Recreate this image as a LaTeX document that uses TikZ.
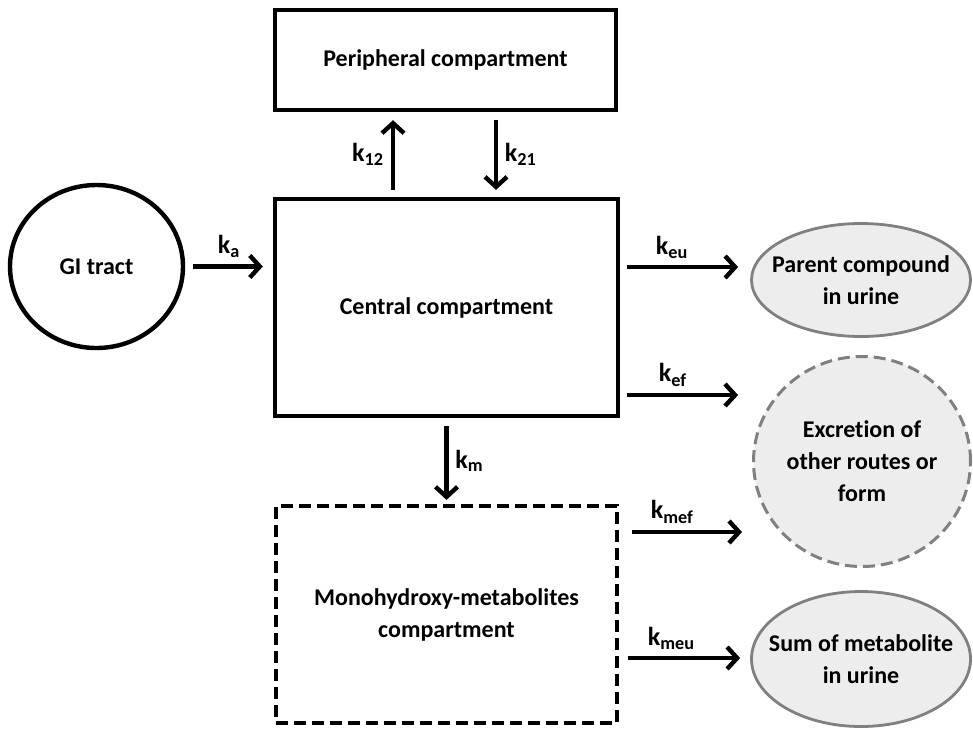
\documentclass[tikz,border=0pt]{standalone}
\usepackage{fontspec}
\setmainfont{Carlito}[Ligatures=NoCommon]
\usetikzlibrary{arrows.meta,shapes.geometric}

\begin{document}
\begin{tikzpicture}[x=0.5pt,y=-0.5pt,->,>={Straight Barb[length=5pt,width=11pt]},line width=2.2pt,auto,
    font=\bfseries\fontsize{12}{16}\selectfont,
    comp node/.style={draw,rectangle,inner sep=0pt,align=center},
    out node/.style={draw=black!50,fill=black!7,ellipse,line width=1.4pt,inner sep=0pt},
    rate/.style={font=\bfseries\fontsize{13}{16}\selectfont}]
    \useasboundingbox (0,0) rectangle (973,730);

    \node[comp node,minimum width=170.5pt,minimum height=50pt] (peri) at (445.5,60) {Peripheral compartment};
    \node[comp node,minimum width=171.5pt,minimum height=108.5pt] (central) at (446.5,307.5) {Central compartment};
    \node[comp node,dash pattern=on 6pt off 3pt,minimum width=170.5pt,minimum height=108.5pt] (meta) at (446.5,614.5) {Monohydroxy-metabolites\\compartment};
    \node[draw,ellipse,inner sep=0pt,minimum width=86.5pt,minimum height=81.5pt] (gi) at (96.5,266.5) {GI tract};

    \node[out node,minimum width=109.5pt,minimum height=56.5pt,
        label={[align=center]center:{Parent compound\\in urine}}] (parent) at (861,280) {};
    \node[out node,dash pattern=on 6pt off 3pt,line width=1.5pt,minimum width=108.5pt,minimum height=105pt,
        label={[align=center]center:{Excretion of\\other routes or\\form}}] (other) at (862,461.5) {};
    \node[out node,minimum width=109.5pt,minimum height=67.5pt,
        label={[align=center]center:{Sum of metabolite\\in urine}}] (sum) at (861,659) {};

    \coordinate (a12) at ([xshift=-26.75pt]central.north);
    \coordinate (a21) at ([xshift=25.25pt]peri.south);
    \coordinate (eu) at ([yshift=20.25pt]central.east);
    \coordinate (ef) at ([yshift=-43.75pt]central.east);
    \coordinate (mef) at ([yshift=41.25pt]meta.east);
    \coordinate (meu) at ([yshift=-21.75pt]meta.east);

    \path[every node/.style={rate}]
        (gi.east) edge[shorten <=4pt,shorten >=5pt] node{k\textsubscript{a}} (gi.east -| central.west)
        (a12) edge[shorten <=3.5pt,shorten >=4pt] node{k\textsubscript{12}} (a12 |- peri.south)
        (a21) edge[shorten <=4pt,shorten >=3.5pt] node{k\textsubscript{21}} (a21 |- central.north)
        (central.south) edge[shorten <=4pt,shorten >=2pt] node{k\textsubscript{m}} (meta.north)
        (eu) edge[shorten <=3.5pt,shorten >=6pt] node[pos=0.4]{k\textsubscript{eu}} (eu -| parent.west)
        (ef) edge[shorten <=3.5pt,shorten >=7pt] node[pos=0.4]{k\textsubscript{ef}} (ef -| other.west)
        (mef) edge[shorten <=6.5pt,shorten >=5pt] node[pos=0.4]{k\textsubscript{mef}} (mef -| other.west)
        (meu) edge[shorten <=4.5pt,shorten >=5pt] node[pos=0.4]{k\textsubscript{meu}} (meu -| sum.west)
    ;
\end{tikzpicture}
\end{document}
